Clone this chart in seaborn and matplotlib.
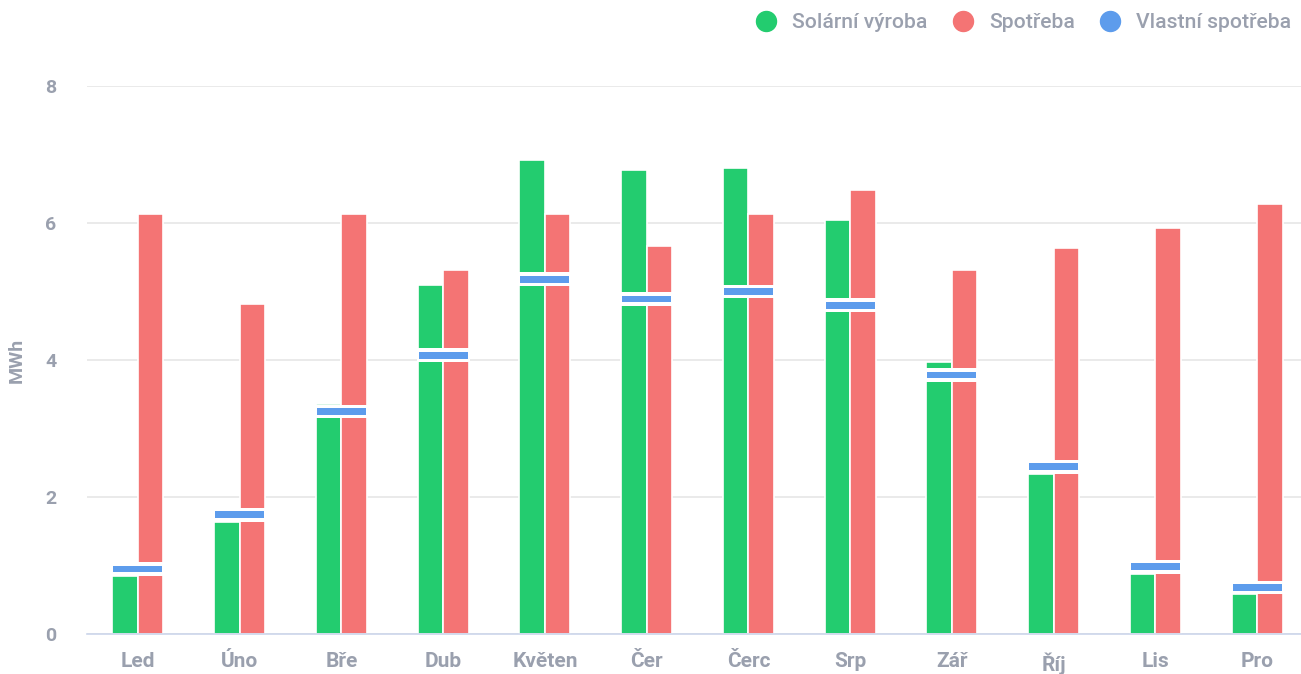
import matplotlib
matplotlib.use("Agg")
import matplotlib.pyplot as plt
from matplotlib.lines import Line2D
import seaborn as sns
import pandas as pd
import numpy as np

months = ["Led", "Úno", "Bře", "Dub", "Květen", "Čer", "Čerc", "Srp", "Zář", "Říj", "Lis", "Pro"]
solar = [0.85, 1.64, 3.36, 5.09, 6.92, 6.77, 6.80, 6.04, 3.97, 2.34, 0.88, 0.58]
consumption = [6.13, 4.82, 6.13, 5.31, 6.13, 5.66, 6.13, 6.48, 5.31, 5.64, 5.93, 6.28]
self_use = [0.85, 1.64, 3.15, 3.97, 5.08, 4.79, 4.90, 4.70, 3.68, 2.34, 0.88, 0.58]
series_names = ["Solární výroba", "Spotřeba", "Vlastní spotřeba"]
yticks = [0, 2, 4, 6, 8]

GREEN = "#23cc6f"
RED = "#f47474"
BLUE = "#5d9cec"
TXT = "#9aa0ae"

sns.set_theme(style="white")
plt.rcParams["font.family"] = ["Roboto", "DejaVu Sans"]

df = pd.DataFrame({
    "month": months * 2,
    "series": [series_names[0]] * 12 + [series_names[1]] * 12,
    "value": solar + consumption,
})

fig = plt.figure(figsize=(13.01, 6.74), dpi=100)
ax = fig.add_axes([87 / 1301, 40 / 674, 1221 / 1301, 548 / 674])

sns.barplot(data=df, x="month", y="value", hue="series", order=months,
            hue_order=series_names[:2], palette=[GREEN, RED], width=0.5,
            edgecolor="white", linewidth=1.2, legend=False, ax=ax, errorbar=None,
            saturation=1)

# self-consumption marker spanning both bars (white gap + blue band)
xpos = np.arange(len(months))
su = np.array(self_use)
ax.bar(xpos, 0.2, bottom=su, width=0.52, color="white", linewidth=0, zorder=4)
ax.bar(xpos, 0.1, bottom=su + 0.05, width=0.48, color=BLUE, linewidth=0, zorder=5)

ax.set_ylim(0, 8)
ax.set_xlim(-0.5, len(months) - 0.5)
ax.set_yticks(yticks)
ax.set_yticklabels([str(t) for t in yticks])
ax.grid(axis="y", color="#e6e6e6", linewidth=1.2)
ax.set_axisbelow(True)
for s in ["top", "right", "left"]:
    ax.spines[s].set_visible(False)
ax.spines["bottom"].set_color("#ccd6eb")
ax.spines["bottom"].set_linewidth(1.2)

ax.tick_params(axis="y", length=0, pad=22, labelsize=14, labelcolor=TXT)
ax.tick_params(axis="x", which="major", length=0, pad=13, labelsize=15, labelcolor=TXT)
ax.set_xticks(np.arange(-0.5, len(months)), minor=True)
ax.tick_params(axis="x", which="minor", length=13.5, width=1.2, color="#ccd6eb")
for lab in ax.get_xticklabels() + ax.get_yticklabels():
    lab.set_fontweight("bold")

ax.set_xlabel("")
ax.set_ylabel("MWh", fontsize=14, fontweight="bold", color=TXT, labelpad=14)

handles = [Line2D([], [], marker="o", linestyle="", markersize=14.4, color=c)
           for c in [GREEN, RED, BLUE]]
leg = fig.legend(handles, series_names, loc="upper right", bbox_to_anchor=(1.007, 1.009),
                 ncol=3, frameon=False, handlelength=0.95, handletextpad=0.75,
                 columnspacing=1.2, prop={"size": 15.2, "weight": "medium"})
for t in leg.get_texts():
    t.set_color(TXT)

fig.savefig("out.png", dpi=100)
